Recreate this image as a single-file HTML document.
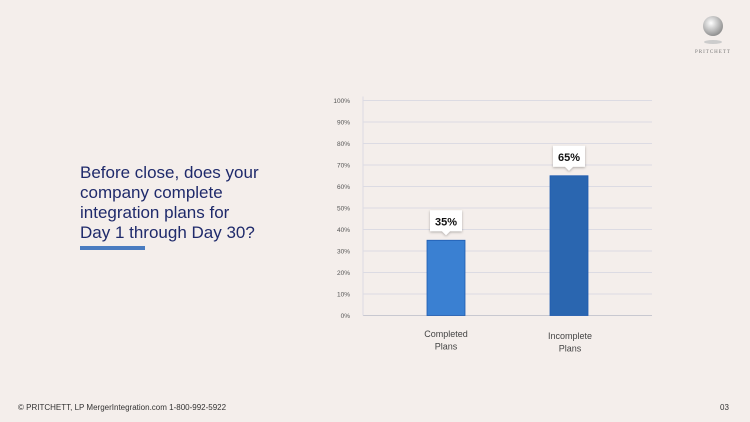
<!DOCTYPE html>
<html><head><meta charset="utf-8"><style>
body{margin:0;width:750px;height:422px;background:#f4eeeb;font-family:"Liberation Sans",sans-serif;overflow:hidden;position:relative}
.q{position:absolute;left:80px;top:163px;font-size:17px;line-height:20px;color:#1f2a6b}
.bar{position:absolute;left:80px;top:246px;width:65px;height:4px;background:#4a7cc0}
.foot{position:absolute;left:18px;top:403px;font-size:8px;color:#333}
.pg{position:absolute;left:720px;top:403px;font-size:8px;color:#333}
</style></head><body>
<div class="q">Before close, does your<br>company complete<br>integration plans for<br>Day 1 through Day 30?</div>
<div class="bar"></div>
<div class="foot">© PRITCHETT, LP MergerIntegration.com 1-800-992-5922</div>
<div class="pg">03</div>
<svg width="750" height="422" style="position:absolute;left:0;top:0">
<defs><radialGradient id="sph" cx="0.4" cy="0.35" r="0.7"><stop offset="0" stop-color="#fff"/><stop offset="1" stop-color="#888"/></radialGradient>
<filter id="sh"><feDropShadow dx="0" dy="1" stdDeviation="1.2" flood-opacity="0.3"/></filter></defs>
<g>
<circle cx="713" cy="26" r="10" fill="url(#sph)"/>
<ellipse cx="713" cy="42" rx="9" ry="2" fill="#ccc"/>
<text x="713" y="53" font-size="5" text-anchor="middle" fill="#777" letter-spacing="1" font-family="Liberation Serif,serif">PRITCHETT</text></g>
<g id="plot"></g>
</svg>
<script>
const categories=[["Completed","Plans"],["Incomplete","Plans"]];
const values=[35,65];
const ticks=[0,10,20,30,40,50,60,70,80,90,100];
const colors=["#3a80d2","#2a66b0"];
const ns="http://www.w3.org/2000/svg";
const g=document.getElementById("plot");
const x0=363,x1=652,y0=315.5,yTop=100.5;
const y=v=>y0-(v/100)*(y0-yTop);
const xc=i=>446+i*123;
function mk(t,a){const e=document.createElementNS(ns,t);for(const k in a)e.setAttribute(k,a[k]);g.appendChild(e);return e;}
ticks.forEach(t=>{
 const l=mk("line",{x1:x0,x2:x1,y1:y(t),y2:y(t),stroke:t?"#dcdbe3":"#c8c8d0","stroke-width":1});
 
 
 const tx=mk("text",{x:350,y:y(t)+2.5,"font-size":6.5,"text-anchor":"end",fill:"#555"});tx.textContent=t+"%";
 
 
});
mk("line",{x1:x0,x2:x0,y1:yTop-4,y2:y0,stroke:"#dcdbe3"});
values.forEach((v,i)=>{
 const c=xc(i);
 const r=mk("rect",{x:c-19,y:y(v),width:38,height:y0-y(v),fill:colors[i],stroke:"#1f5bb0","stroke-width":0.8});
 
 
 const top=y(v)-30;
 const p=mk("path",{d:`M${c-16},${top} h32 v21 h-12 l-4,4 l-4,-4 h-12 z`,fill:"#fff",filter:"url(#sh)"});
 
 
 const t=mk("text",{x:c,y:top+15,"font-size":11,"font-weight":"bold","text-anchor":"middle",fill:"#111"});t.textContent=v+"%";
 
 
 categories[i].forEach((s,j)=>{
  const ct=mk("text",{x:c+(i?1:0),y:337+i*2+j*12.5,"font-size":9,"text-anchor":"middle",fill:"#444"});ct.textContent=s;
  
  
 });
});
</script>
</body></html>
